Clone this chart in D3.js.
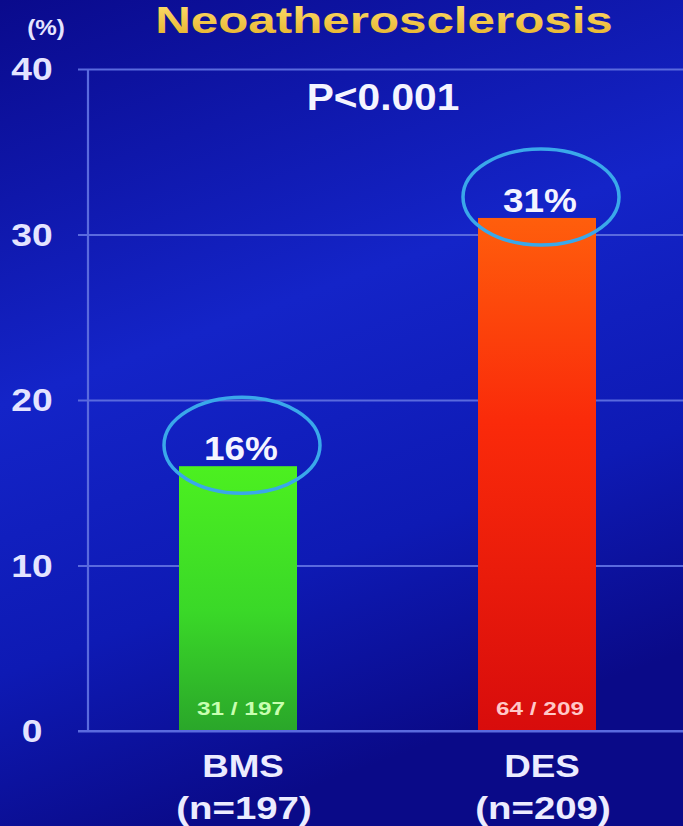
<!DOCTYPE html>
<html>
<head>
<meta charset="utf-8">
<script src="https://cdn.jsdelivr.net/npm/d3@7"></script>
<style>
  html, body { margin: 0; padding: 0; background: #0a0c90; }
  svg { display: block; font-family: "Liberation Sans", Arial, sans-serif; }
</style>
</head>
<body>
<svg id="chart" width="683" height="826"></svg>
<script>
// Neoatherosclerosis incidence, BMS vs DES
const categories = ["BMS", "DES"];
const sampleSizes = ["(n=197)", "(n=209)"];
const percentages = [16, 31];
const counts = ["31 / 197", "64 / 209"];
const yTicks = [0, 10, 20, 30, 40];
const pValueText = "P<0.001";
const titleText = "Neoatherosclerosis";

const W = 683, H = 826;
const svg = d3.select("#chart");
const defs = svg.append("defs");

// background: deep navy fading into brighter royal blue
const bg = defs.append("linearGradient").attr("id", "bg")
  .attr("x1", 0).attr("y1", 0).attr("x2", 0.3).attr("y2", 1);
bg.append("stop").attr("offset", "0%").attr("stop-color", "#0a0a8c");
bg.append("stop").attr("offset", "45%").attr("stop-color", "#1424c8");
bg.append("stop").attr("offset", "75%").attr("stop-color", "#0e1ab4");
bg.append("stop").attr("offset", "100%").attr("stop-color", "#0a0a88");
svg.append("rect").attr("width", W).attr("height", H).attr("fill", "url(#bg)");

const gGreen = defs.append("linearGradient").attr("id", "gGreen")
  .attr("x1", 0).attr("y1", 0).attr("x2", 0).attr("y2", 1);
gGreen.append("stop").attr("offset", "0%").attr("stop-color", "#4cf020");
gGreen.append("stop").attr("offset", "55%").attr("stop-color", "#3ad828");
gGreen.append("stop").attr("offset", "100%").attr("stop-color", "#2aa62a");

const gRed = defs.append("linearGradient").attr("id", "gRed")
  .attr("x1", 0).attr("y1", 0).attr("x2", 0).attr("y2", 1);
gRed.append("stop").attr("offset", "0%").attr("stop-color", "#ff5e0c");
gRed.append("stop").attr("offset", "40%").attr("stop-color", "#fa2a0a");
gRed.append("stop").attr("offset", "100%").attr("stop-color", "#d80c0c");

const barFills = ["url(#gGreen)", "url(#gRed)"];
const countColors = ["#c8ffb0", "#ffc8c8"];

const titleGrad = defs.append("linearGradient").attr("id", "titleGrad")
  .attr("x1", 0).attr("y1", 0).attr("x2", 0).attr("y2", 1);
titleGrad.append("stop").attr("offset", "0%").attr("stop-color", "#ffe070");
titleGrad.append("stop").attr("offset", "100%").attr("stop-color", "#e4b028");

const y = d3.scaleLinear().domain([0, 40]).range([731, 69]);
const x = d3.scalePoint().domain(categories).range([238, 537]);

// text helper: anchored text, widened horizontally like the slide lettering
function label(g, tx, ty, txt, size, sx, fill, weight = "bold") {
  return g.append("text")
    .attr("transform", `translate(${tx},${ty}) scale(${sx},1)`)
    .attr("text-anchor", "middle")
    .attr("font-size", size).attr("font-weight", weight)
    .attr("fill", fill)
    .text(txt);
}

// gridlines and ticks
const gridColor = "#5a6ade";
const yAxis = d3.axisLeft(y).tickValues(yTicks).tickSize(0).tickFormat("");
const ga = svg.append("g").attr("transform", "translate(78,0)").call(yAxis);
ga.select(".domain").remove();
ga.selectAll(".tick line").attr("stroke", gridColor).attr("stroke-width", 2.2)
  .attr("x1", 0).attr("x2", W - 78);

// vertical axis line
svg.append("line").attr("x1", 88).attr("x2", 88)
  .attr("y1", y(40)).attr("y2", y(0))
  .attr("stroke", gridColor).attr("stroke-width", 2.2);

// tick labels
const tl = svg.append("g");
yTicks.forEach(t => label(tl, 32, y(t) + 11, String(t), 31, 1.2, "#e4e4ff"));

// bars
const bw = 118;
svg.append("g").selectAll("rect").data(categories).join("rect")
  .attr("x", d => x(d) - bw / 2)
  .attr("width", bw)
  .attr("y", (d, i) => y(percentages[i]))
  .attr("height", (d, i) => y(0) - y(percentages[i]))
  .attr("fill", (d, i) => barFills[i]);

// baseline drawn over the bar feet
svg.append("line").attr("x1", 78).attr("x2", W).attr("y1", y(0)).attr("y2", y(0))
  .attr("stroke", gridColor).attr("stroke-width", 2.2);

// count labels inside bars
const cl = svg.append("g");
categories.forEach((d, i) => label(cl, x(d) + 3, y(0) - 16, counts[i], 19, 1.28, countColors[i]));

// value labels
const vl = svg.append("g");
categories.forEach((d, i) => label(vl, x(d) + 3, y(percentages[i]) - 6, percentages[i] + "%", 33, 1.12, "#f4f4ff"));

// highlight ellipses around value labels
svg.append("g").selectAll("ellipse").data(categories).join("ellipse")
  .attr("cx", d => x(d) + 4)
  .attr("cy", (d, i) => y(percentages[i]) - 21)
  .attr("rx", 78).attr("ry", 48)
  .attr("fill", "none")
  .attr("stroke", "#3aa8ea").attr("stroke-width", 3.5);

// category labels
const cat = svg.append("g");
categories.forEach((d, i) => {
  label(cat, x(d) + 5, 777, d, 32, 1.15, "#ececff");
  label(cat, x(d) + 6, 819, sampleSizes[i], 32, 1.2, "#ececff");
});

// p-value
label(svg, 383, 110, pValueText, 36, 1.13, "#f4f4ff");

// unit label
label(svg, 46, 35, "(%)", 22, 1.1, "#e4e4ff");

// title
label(svg, 384, 33, titleText, 36, 1.37, "url(#titleGrad)");
</script>
</body>
</html>
